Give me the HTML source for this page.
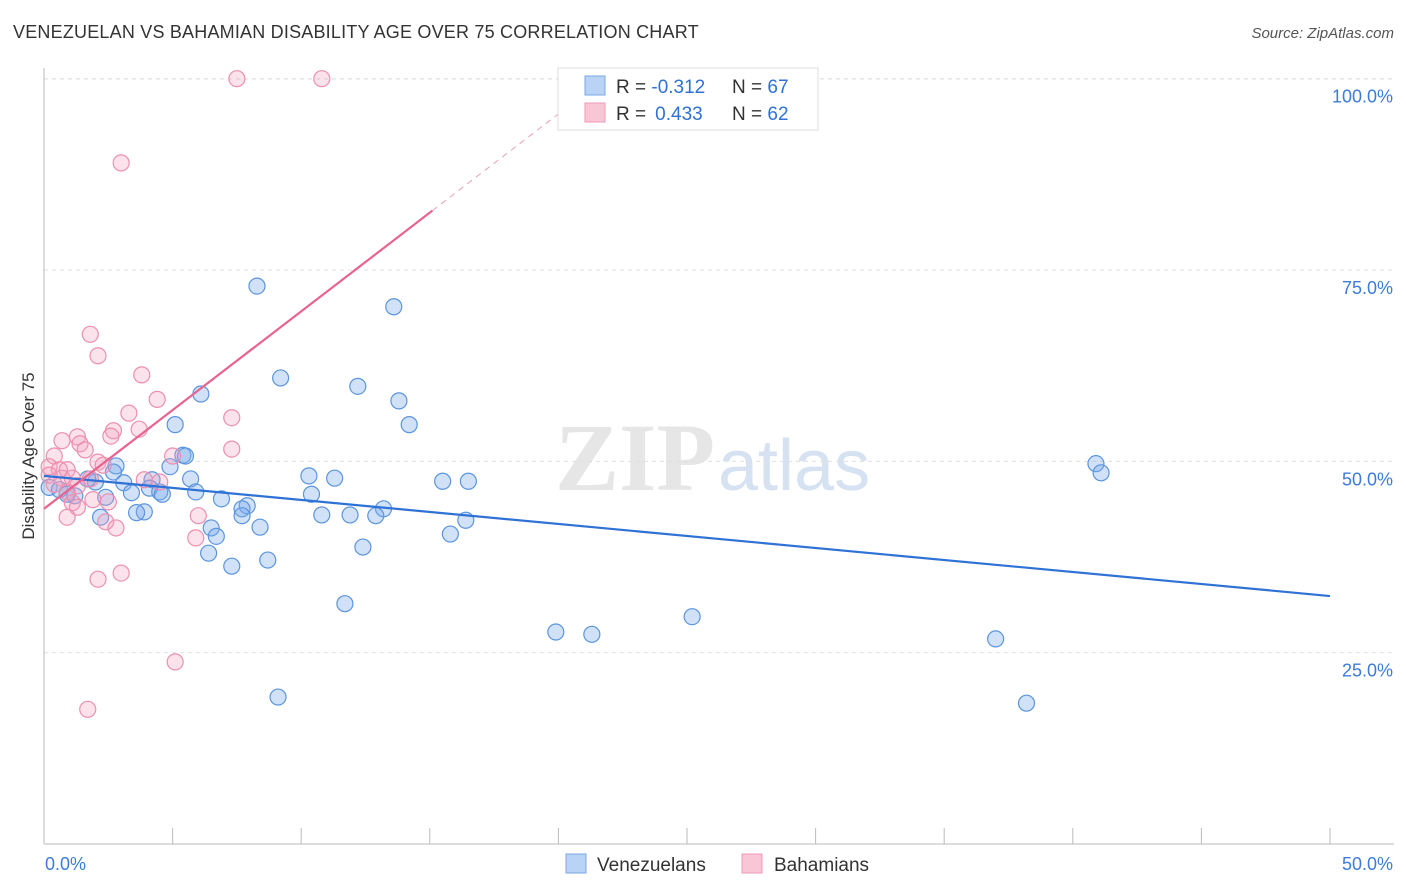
<!DOCTYPE html>
<html><head><meta charset="utf-8">
<style>
body{margin:0;background:#fff;font-family:"Liberation Sans",sans-serif;}
#wrap{position:relative;width:1406px;height:892px;overflow:hidden}
.t{position:absolute;white-space:nowrap}
</style></head><body>
<div id="wrap">
<div class="t" style="left:13px;top:22px;font-size:18px;color:#333;letter-spacing:0.2px">VENEZUELAN VS BAHAMIAN DISABILITY AGE OVER 75 CORRELATION CHART</div>
<div class="t" style="right:12px;top:25px;font-size:15px;color:#555;font-style:italic">Source: ZipAtlas.com</div>
<svg id="svg" width="1406" height="892" style="position:absolute;left:0;top:0"></svg>
</div>
<script>
const xTicks=[0,5,10,15,20,25,30,35,40,45,50];
const yTicks=[25,50,75,100];
const yTickLabels=["25.0%","50.0%","75.0%","100.0%"];
const blueX=[8.28,13.6,9.2,12.2,6.1,13.8,14.2,5.1,5.4,5.5,4.9,2.8,2.7,40.9,41.1,10.3,11.3,15.5,16.5,5.7,4.2,3.1,2.0,1.7,0.2,0.6,0.9,1.2,2.4,3.4,4.1,4.5,4.6,5.9,6.9,10.4,7.9,7.7,13.2,3.9,3.6,2.2,10.8,11.9,12.9,16.4,7.7,6.5,8.4,6.7,15.8,12.4,6.4,8.7,7.3,11.7,25.2,19.9,21.3,37.0,9.1,38.2];
const blueY=[72.9,70.2,60.9,59.8,58.8,57.9,54.8,54.8,50.8,50.7,49.3,49.4,48.6,49.7,48.5,48.1,47.8,47.4,47.4,47.7,47.6,47.2,47.3,47.7,46.6,46.3,45.7,45.5,45.3,45.9,46.5,46.0,45.7,46.0,45.1,45.7,44.2,43.8,43.8,43.4,43.3,42.7,43.0,43.0,42.9,42.3,42.9,41.3,41.4,40.2,40.5,38.8,38.0,37.1,36.3,31.4,29.7,27.7,27.4,26.8,19.2,18.4];
const pinkX=[7.5,10.8,3.0,1.8,2.1,3.8,4.4,3.3,7.3,2.7,2.6,3.7,0.7,1.3,1.4,1.6,7.3,0.4,5.0,2.1,2.3,0.2,0.6,0.9,0.2,0.7,1.1,1.8,3.9,4.5,0.4,1.3,0.9,1.9,2.5,1.1,1.3,6.0,0.9,2.4,2.8,5.9,3.0,2.1,5.1,1.7];
const pinkY=[100,100,89,66.6,63.8,61.3,58.1,56.3,55.7,54.0,53.3,54.2,52.7,53.2,52.3,51.5,51.6,50.7,50.7,49.9,49.5,49.3,48.9,48.9,48.2,47.8,47.8,47.7,47.6,47.3,47.0,46.8,46.0,45.0,44.7,44.6,44.0,42.9,42.7,42.1,41.3,40.0,35.4,34.6,23.8,17.6];
const blueTrend=[48.1,32.4];   // y at x=0, x=50
const pinkTrend=[43.8,2.58];   // intercept, slope per %
const NS="http://www.w3.org/2000/svg";
const svg=document.getElementById('svg');
const X=v=>44+v*25.72, Y=v=>844-v*7.653;
function mk(tag,a,p){const e=document.createElementNS(NS,tag);for(const k in a)e.setAttribute(k,a[k]);(p||svg).appendChild(e);return e;}
// watermark
let w=mk('text',{x:555,y:490,'font-size':96,fill:'#e6e6e6','font-family':'Liberation Serif, serif','font-weight':'bold'});w.textContent='ZIP';


let w2=mk('text',{x:718,y:490,'font-size':72,fill:'#d6e2f2','font-family':'Liberation Sans, sans-serif'});w2.textContent='atlas';


// grid
yTicks.forEach((t,i)=>{
 const g=mk('line',{x1:44,x2:1394,y1:Y(t),y2:Y(t),stroke:'#e0e0e0','stroke-dasharray':'4,4'});
 
 
 const l=mk('text',{x:1393,y:Y(t)+24,'text-anchor':'end','font-size':18,fill:'#3d7bd9'});l.textContent=yTickLabels[i];
 
 
});
mk('line',{x1:44,x2:1394,y1:79,y2:79,stroke:'#e0e0e0','stroke-dasharray':'4,4'});
mk('line',{x1:44,x2:44,y1:68,y2:844,stroke:'#bbb'});
mk('line',{x1:44,x2:1394,y1:844,y2:844,stroke:'#bbb'});
xTicks.forEach(t=>{const tk=mk('line',{x1:X(t),x2:X(t),y1:828,y2:844,stroke:'#bbb'});
 
 });
let xl=mk('text',{x:45,y:870,'font-size':18,fill:'#3d7bd9'});xl.textContent='0.0%';


let xr=mk('text',{x:1393,y:870,'text-anchor':'end','font-size':18,fill:'#3d7bd9'});xr.textContent='50.0%';


let yt=mk('text',{x:34,y:456,'font-size':17,fill:'#333',transform:'rotate(-90 34 456)','text-anchor':'middle'});yt.textContent='Disability Age Over 75';


// points
blueX.forEach((x,i)=>{const c=mk('circle',{cx:X(x),cy:Y(blueY[i]),r:8,fill:'rgba(120,170,235,0.35)',stroke:'#5b95de','stroke-width':1.2});
 
 });
pinkX.forEach((x,i)=>{const c=mk('circle',{cx:X(x),cy:Y(pinkY[i]),r:8,fill:'rgba(245,160,190,0.3)',stroke:'#ec8fb0','stroke-width':1.2});
 
 });
// trends
const bl=mk('line',{x1:X(0),y1:Y(blueTrend[0]),x2:X(50),y2:Y(blueTrend[1]),stroke:'#2f72d6','stroke-width':2.2});


const pe=15.1;
const pl=mk('line',{x1:X(0),y1:Y(pinkTrend[0]),x2:X(pe),y2:Y(pinkTrend[0]+pinkTrend[1]*pe),stroke:'#e8648f','stroke-width':2.2});


const pd=mk('line',{x1:X(pe),y1:Y(pinkTrend[0]+pinkTrend[1]*pe),x2:X(20.5),y2:Y(pinkTrend[0]+pinkTrend[1]*20.5),stroke:'#e8a0b8','stroke-width':1,'stroke-dasharray':'6,5'});


// legend box
const lg=mk('g',{});


mk('rect',{x:558,y:68,width:260,height:62,fill:'#fff',stroke:'#ddd'},lg);
mk('rect',{x:585,y:76,width:20,height:19,fill:'#b8d3f5',stroke:'#7aa8e4'},lg);
mk('rect',{x:585,y:103,width:20,height:19,fill:'#f9c6d6',stroke:'#ee9ab6'},lg);
[[93,'-0.312','67'],[120,'0.433','62']].forEach(r=>{
 const t=mk('text',{x:616,y:r[0],'font-size':19,fill:'#333'},lg);
 t.innerHTML='R = <tspan fill="#2f72d6">'+(r[1][0]=='-'?'':'\u2009')+r[1]+'</tspan>';
 const n=mk('text',{x:732,y:r[0],'font-size':19,fill:'#333'},lg);
 n.innerHTML='N = <tspan fill="#2f72d6">'+r[2]+'</tspan>';
});
// bottom legend
const bg=mk('g',{});


mk('rect',{x:566,y:854,width:20,height:19,fill:'#b8d3f5',stroke:'#7aa8e4'},bg);
let t1=mk('text',{x:597,y:871,'font-size':19,fill:'#333'},bg);t1.textContent='Venezuelans';
mk('rect',{x:742,y:854,width:20,height:19,fill:'#f9c6d6',stroke:'#ee9ab6'},bg);
let t2=mk('text',{x:774,y:871,'font-size':19,fill:'#333'},bg);t2.textContent='Bahamians';
</script>
</body></html>
